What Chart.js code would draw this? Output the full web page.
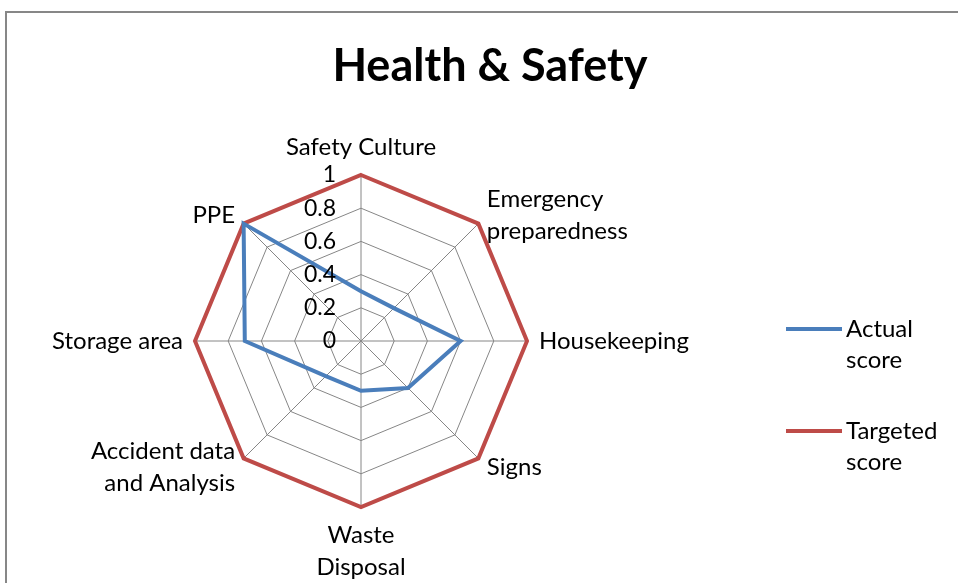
<!DOCTYPE html>
<html>
<head>
<meta charset="utf-8">
<script src="https://cdn.jsdelivr.net/npm/chart.js@4"></script>
<style>
  html, body { margin: 0; padding: 0; background: #fff; }
  #wrap { width: 958px; height: 583px; position: relative; }
</style>
</head>
<body>
<div id="wrap"><canvas id="hsChart" width="958" height="583"></canvas></div>
<script>
const categories = [
    'Safety Culture',
    ['Emergency', 'preparedness'],
    'Housekeeping',
    'Signs',
    ['Waste', 'Disposal'],
    ['Accident data', 'and Analysis'],
    'Storage area',
    'PPE'
];
const actualScore = [0.3, 0.28, 0.6, 0.4, 0.3, 0.3, 0.7, 1];
const targetedScore = [1, 1, 1, 1, 1, 1, 1, 1];
const tickValues = [0, 0.2, 0.4, 0.6, 0.8, 1];
const seriesNames = ['Actual score', 'Targeted score'];
const seriesColors = ['#4A7EBB', '#BE4B48'];
const titleText = 'Health & Safety';

const labelFont = 'Lato';

// frame, title, tick labels, category labels and legend drawn by hand to copy the Excel look
const excelBits = {
    id: 'excelBits',
    beforeDraw(chart) {
        const c = chart.ctx;
        c.save();
        c.strokeStyle = '#878787';
        c.lineWidth = 2;
        c.strokeRect(6, 12, 1000, 700);
        c.restore();
    },
    afterDatasetsDraw(chart) {
        const c = chart.ctx;
        const scale = chart.scales.r;
        c.save();
        c.fillStyle = '#000';
        c.font = '23px ' + labelFont;
        c.textAlign = 'right';
        c.textBaseline = 'middle';
        tickValues.forEach(function(v) {
            const p = scale.getPointPositionForValue(0, v);
            c.fillText(String(v), p.x - 25, p.y);
        });

        // category labels, Excel style: diagonals centred vertically
        c.font = '24px ' + labelFont;
        const lineH = 32;
        chart.data.labels.forEach(function(lab, i) {
            const lines = Array.isArray(lab) ? lab : [lab];
            const p = scale.getPointPosition(i, scale.drawingArea + 12);
            const a = scale.getIndexAngle(i);
            const s = Math.sin(a), co = Math.cos(a);
            c.textAlign = s > 0.01 ? 'left' : (s < -0.01 ? 'right' : 'center');
            const boxH = lines.length * lineH;
            let top;
            if (Math.abs(s) < 0.01 && co > 0) top = p.y - boxH;
            else if (Math.abs(s) < 0.01) top = p.y;
            else top = p.y - boxH / 2;
            lines.forEach(function(t, k) {
                c.fillText(t, p.x, top + lineH * k + lineH / 2);
            });
        });
        c.restore();
    },
    afterDraw(chart) {
        const c = chart.ctx;
        c.save();
        c.fillStyle = '#000';
        c.font = 'bold 45px ' + labelFont;
        c.textAlign = 'center';
        c.textBaseline = 'middle';
        c.fillText(titleText, 490, 66);

        c.font = '24px ' + labelFont;
        c.textAlign = 'left';
        chart.data.datasets.forEach(function(ds, i) {
            const y = 329 + i * 102;
            c.strokeStyle = ds.borderColor;
            c.lineWidth = 4;
            c.beginPath();
            c.moveTo(786, y);
            c.lineTo(842, y);
            c.stroke();
            const words = ds.label.split(' ');
            c.fillText(words[0], 846, y);
            c.fillText(words.slice(1).join(' '), 846, y + 31);
        });
        c.restore();
    }
};

new Chart(document.getElementById('hsChart'), {
    type: 'radar',
    data: {
        labels: categories,
        datasets: [{
            label: seriesNames[0],
            data: actualScore,
            borderColor: seriesColors[0],
            borderWidth: 4,
            fill: false,
            pointRadius: 0,
            tension: 0
        }, {
            label: seriesNames[1],
            data: targetedScore,
            borderColor: seriesColors[1],
            borderWidth: 4,
            fill: false,
            pointRadius: 0,
            tension: 0
        }]
    },
    options: {
        responsive: false,
        animation: false,
        layout: {
            padding: { left: 20, right: 256, top: 175, bottom: 76 }
        },
        plugins: {
            legend: { display: false },
            tooltip: { enabled: false }
        },
        scales: {
            r: {
                min: 0,
                max: 1,
                ticks: { stepSize: 0.2, display: false },
                grid: { color: '#868686', lineWidth: 1 },
                angleLines: { color: '#868686', lineWidth: 1 },
                pointLabels: { display: false }
            }
        }
    },
    plugins: [excelBits]
});
</script>
</body>
</html>
